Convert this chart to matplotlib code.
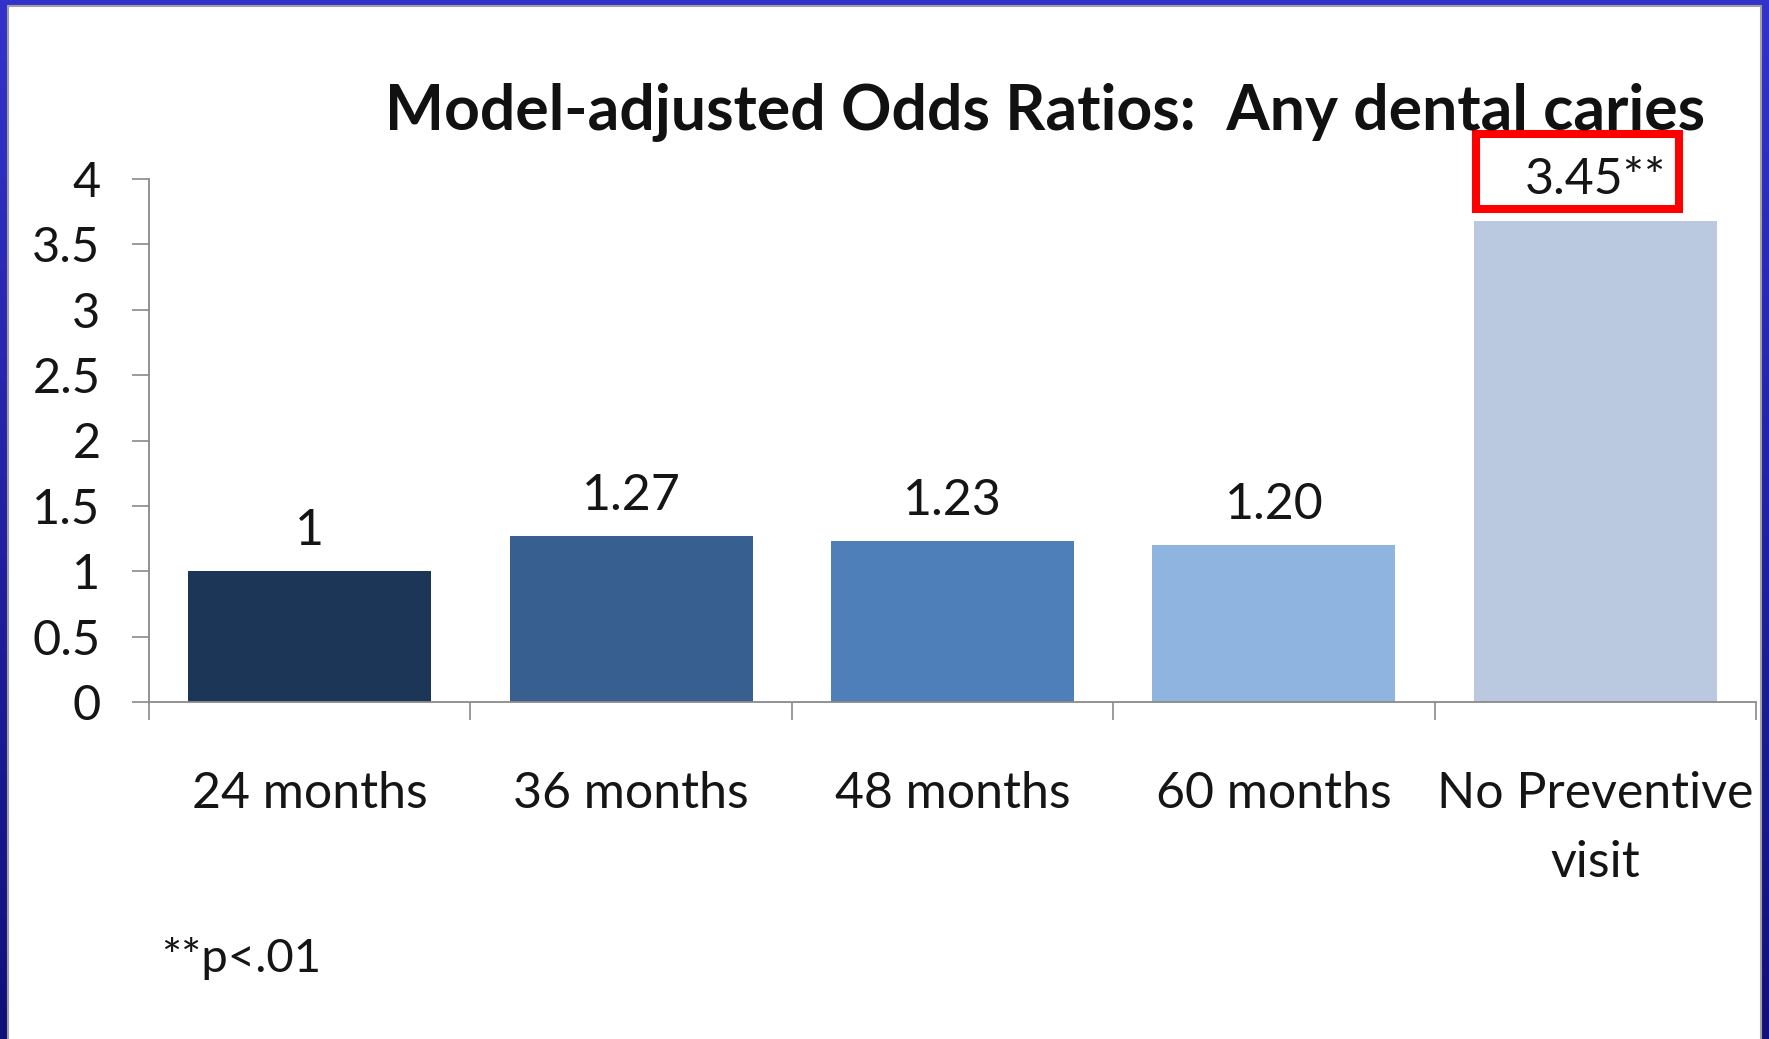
import numpy as np
import matplotlib
matplotlib.use('Agg')
import matplotlib.pyplot as plt
from matplotlib.patches import Rectangle
from matplotlib.colors import LinearSegmentedColormap

plt.rcParams['font.family'] = ['Lato', 'DejaVu Sans']

categories = ['24 months', '36 months', '48 months', '60 months', 'No Preventive\nvisit']
heights = [1.0, 1.27, 1.23, 1.20, 3.68]
labels = ['1', '1.27', '1.23', '1.20', '3.45**']
colors = ['#1c3657', '#375f8f', '#4f7fb8', '#8fb4e0', '#bac8e0']
yticks = [0, 0.5, 1, 1.5, 2, 2.5, 3, 3.5, 4]
ytick_labels = ['0', '0.5', '1', '1.5', '2', '2.5', '3', '3.5', '4']

W, H = 1769, 1039
fig = plt.figure(figsize=(W / 100, H / 100), dpi=100)

# slide background: blue gradient frame + white panel
bg = fig.add_axes([0, 0, 1, 1])
grad = LinearSegmentedColormap.from_list('frame', ['#3333cc', '#10107a'])
bg.imshow(np.linspace(0, 1, 256).reshape(-1, 1), aspect='auto', cmap=grad,
          extent=[0, W, 0, H])
bg.add_patch(Rectangle((8, -5), 1753, H - 6 + 5, facecolor='white',
                       edgecolor='#a0a0a0', linewidth=1.5))
bg.set_xlim(0, W)
bg.set_ylim(0, H)
bg.axis('off')

ax = fig.add_axes([149 / W, 1 - 702 / H, (1756 - 149) / W, (702 - 179) / H])
ax.set_facecolor('none')
x = np.arange(len(categories))
bars = ax.bar(x, heights, width=0.756, color=colors, zorder=2)

for b, lab in zip(bars, labels):
    ax.annotate(lab, (b.get_x() + b.get_width() / 2, b.get_height()),
                xytext=(0, 19), textcoords='offset points',
                ha='center', va='baseline', fontsize=36, color='#151515')

# red box around the significant value
ax.add_patch(Rectangle((3.629, 3.770), 4.260 - 3.629, 4.345 - 3.770,
                       fill=False, edgecolor='#ff0000', linewidth=5.8,
                       clip_on=False, zorder=5))

ax.set_xlim(-0.5, 4.5)
ax.set_ylim(0, 4)
ax.set_yticks(yticks)
ax.set_yticklabels(ytick_labels)
ax.set_xticks(x)
ax.set_xticklabels(categories, linespacing=1.6)
ax.set_xticks(np.arange(-0.5, 5, 1), minor=True)

for s in ['top', 'right']:
    ax.spines[s].set_visible(False)
for s in ['left', 'bottom']:
    ax.spines[s].set_color('#8a8a8a')
    ax.spines[s].set_linewidth(1.3)

ax.tick_params(axis='y', length=12, width=1.2, color='#8a8a8a', pad=23,
               labelsize=35, labelcolor='#151515')
ax.tick_params(axis='x', which='major', length=0, pad=50,
               labelsize=36, labelcolor='#151515')
ax.tick_params(axis='x', which='minor', length=13, width=1.2, color='#8a8a8a')

fig.text(1045 / W, 1 - 129 / H, 'Model-adjusted Odds Ratios:  Any dental caries',
         ha='center', va='baseline', fontsize=45, fontweight='bold', color='#111111')
fig.text(161 / W, 1 - 972 / H, '**p<.01', ha='left', va='baseline',
         fontsize=34, color='#151515')

fig.savefig('out.png', dpi=100)
